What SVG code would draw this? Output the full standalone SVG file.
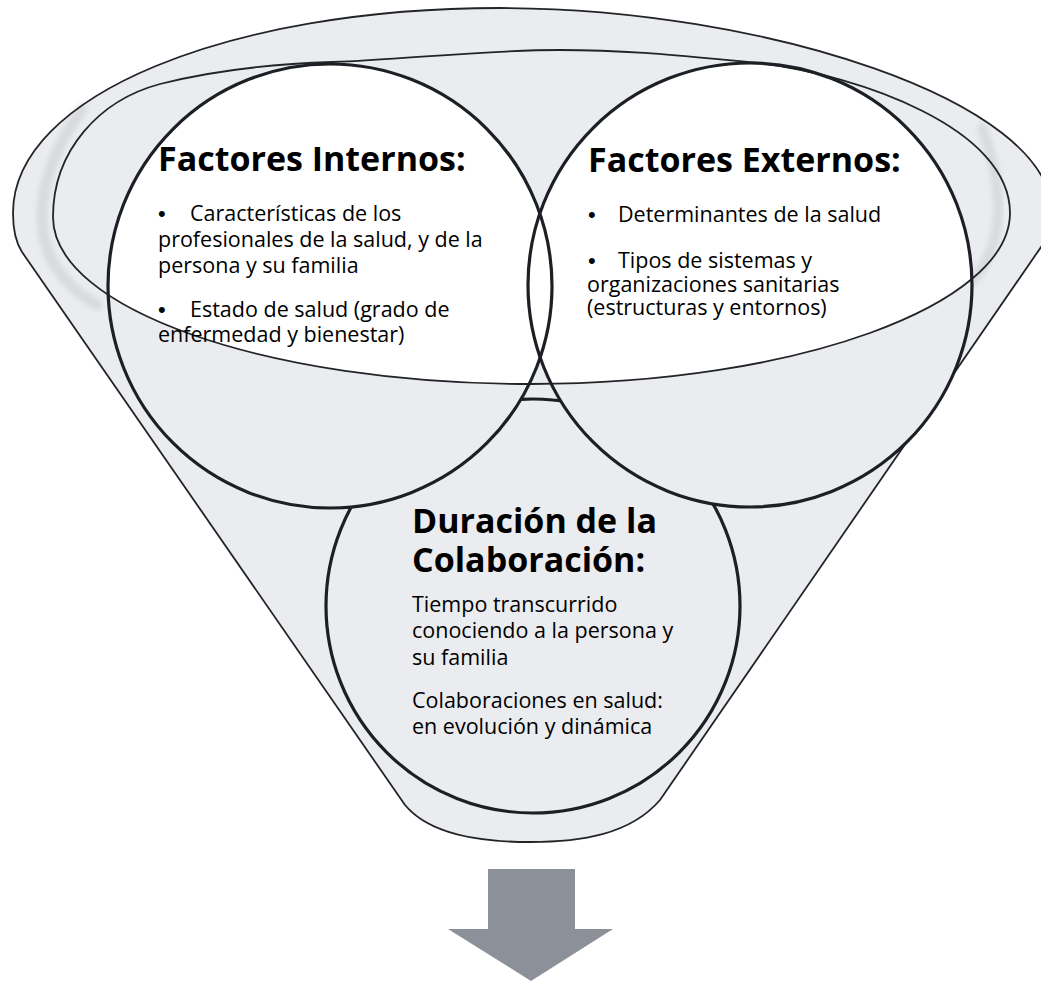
<svg xmlns="http://www.w3.org/2000/svg" width="1041" height="983" viewBox="0 0 1041 983">
  <defs>
    <style>
      .title { font-family: "Open Sans", "Liberation Sans", sans-serif; font-weight: 700; font-size: 34px; fill: #000; }
      .body { font-family: "Open Sans", "Liberation Sans", sans-serif; font-size: 21.5px; fill: #000; }
      .bul { font-family: "Liberation Sans", Arial, sans-serif; font-size: 22px; }
      .ring { fill: none; stroke: #1c1f24; stroke-width: 3.2; }
      .thin { fill: none; stroke: #222428; stroke-width: 1.8; }
      .grey { fill: #ebecef; }
      .band { fill: none; stroke: #d9dade; stroke-linecap: round; }
    </style>
    <filter id="soft" x="-20%" y="-20%" width="140%" height="140%">
      <feGaussianBlur stdDeviation="2.5"/>
    </filter>
    <clipPath id="innerTop">
      <path d="M 53,217 L 53,0 L 1010,0 L 1010,213 C 1010,305 796,384 531,384 C 267,384 53,309 53,217 Z"/>
    </clipPath>
    <mask id="outsideTop">
      <rect x="0" y="0" width="1041" height="983" fill="#fff"/>
      <circle cx="330" cy="286" r="222" fill="#000"/>
      <circle cx="750" cy="285" r="222" fill="#000"/>
    </mask>
  </defs>

  <rect x="0" y="0" width="1041" height="983" fill="#fff"/>

  <!-- funnel body -->
  <g id="funnel">
    <path class="grey" d="M 22,252 Q 13,238 13,213 C 13,95 230,8 500,8 C 760,8 1052,100 1052,213 Q 1052,225 1050,234 L 660,800 C 630,835 580,842 530,842 C 480,842 430,835 405,805 Z"/>
    <path class="band" stroke-width="11" filter="url(#soft)" d="M 82,110 C 52,150 41,190 42,220 C 43,255 62,285 97,305"/>
    <path class="band" stroke-width="10" filter="url(#soft)" d="M 982,128 C 994,160 999,190 998,215 C 997,240 989,262 972,282"/>
    <path class="thin" d="M 22,252 Q 13,238 13,213 C 13,95 230,8 500,8 C 760,8 1052,100 1052,213 Q 1052,225 1050,234 L 660,800 C 630,835 580,842 530,842 C 480,842 430,835 405,805 Z"/>
    <!-- circle fills -->
    <circle class="grey" cx="533" cy="606" r="207"/>
    <circle class="grey" cx="330" cy="286" r="222"/>
    <circle class="grey" cx="750" cy="285" r="222"/>
    <g clip-path="url(#innerTop)" fill="#fff">
      <circle cx="330" cy="286" r="222"/>
      <circle cx="750" cy="285" r="222"/>
    </g>
    <!-- inner rim of the funnel -->
    <path class="thin" d="M 53,217 C 53,150 100,100 160,84 C 215,70 270,64 333,62 C 400,60 480,50 560,50 C 640,50 700,58 760,63 C 860,76 1010,128 1010,213 C 1010,305 796,384 531,384 C 267,384 53,309 53,217 Z"/>
  </g>

  <g id="node-duracion">
    <circle class="ring" cx="533" cy="606" r="207" mask="url(#outsideTop)"/>
    <text class="title" x="412" y="533">Duración de la<tspan x="412" y="572">Colaboración:</tspan></text>
    <text class="body" x="412" y="611.5">Tiempo transcurrido<tspan x="412" y="638">conociendo a la persona y</tspan><tspan x="412" y="664.5">su familia</tspan></text>
    <text class="body" x="412" y="708">Colaboraciones en salud:<tspan x="412" y="734">en evolución y dinámica</tspan></text>
  </g>

  <g id="node-internos">
    <circle class="ring" cx="330" cy="286" r="222"/>
    <text class="title" x="158" y="171">Factores Internos:</text>
    <text class="body" x="158" y="220.5"><tspan class="bul">•</tspan><tspan x="190">Características de los</tspan><tspan x="158" y="246.5">profesionales de la salud, y de la</tspan><tspan x="158" y="272.5">persona y su familia</tspan></text>
    <text class="body" x="158" y="316.5"><tspan class="bul">•</tspan><tspan x="190">Estado de salud (grado de</tspan><tspan x="158" y="342">enfermedad y bienestar)</tspan></text>
  </g>

  <g id="node-externos">
    <circle class="ring" cx="750" cy="285" r="222"/>
    <text class="title" x="588" y="171.5">Factores Externos:</text>
    <text class="body" x="588" y="221.5"><tspan class="bul">•</tspan><tspan x="618">Determinantes de la salud</tspan></text>
    <text class="body" x="588" y="268"><tspan class="bul">•</tspan><tspan x="618">Tipos de sistemas y</tspan><tspan x="587" y="291.5">organizaciones sanitarias</tspan><tspan x="587" y="315">(estructuras y entornos)</tspan></text>
  </g>

  <g id="connectors">
    <polygon points="488,869 575,869 575,929 613,929 531,981 448,929 488,929" fill="#8c9098"/>
  </g>
</svg>
